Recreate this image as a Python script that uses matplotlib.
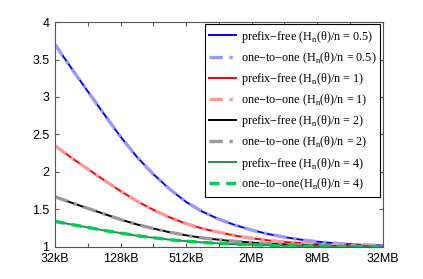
import matplotlib
matplotlib.use("Agg")
import matplotlib.pyplot as plt

# block size in kB (half-doubling steps from 32kB to 32MB)
size_kb = [32, 45.25, 64, 90.5, 128, 181, 256, 362, 512, 724, 1024,
           1448, 2048, 2896, 4096, 5793, 8192, 11585, 16384, 23170, 32768]

# ratio curves
r_05 = [3.70, 3.385, 3.075, 2.77, 2.47, 2.20, 1.97, 1.77, 1.60, 1.47, 1.37,
        1.29, 1.225, 1.172, 1.13, 1.097, 1.07, 1.05, 1.036, 1.026, 1.02]
r_1 = [2.35, 2.19, 2.04, 1.89, 1.745, 1.61, 1.495, 1.395, 1.31, 1.245, 1.195,
       1.15, 1.115, 1.088, 1.066, 1.05, 1.036, 1.026, 1.018, 1.013, 1.01]
r_2 = [1.67, 1.59, 1.515, 1.44, 1.365, 1.30, 1.245, 1.195, 1.155, 1.12, 1.095,
       1.075, 1.058, 1.044, 1.033, 1.025, 1.018, 1.013, 1.009, 1.006, 1.005]
r_4 = [1.34, 1.30, 1.26, 1.22, 1.185, 1.15, 1.122, 1.097, 1.077, 1.06, 1.047,
       1.037, 1.029, 1.022, 1.016, 1.012, 1.009, 1.007, 1.005, 1.003, 1.002]

xtick_kb = [32, 64, 128, 256, 512, 1024, 2048, 4096, 8192, 16384, 32768]
xtick_labels = ['32kB', '', '128kB', '', '512kB', '', '2MB', '', '8MB', '', '32MB']
yticks = [1, 1.5, 2, 2.5, 3, 3.5, 4]
ytick_labels = ['1', '1.5', '2', '2.5', '3', '3.5', '4']

def lab(kind, v):
    return kind + r' (H$_{\mathregular{n}}$(θ)/n = ' + v + ')'

fig = plt.figure(figsize=(4.23, 2.79), dpi=100)
ax = fig.add_axes([0.130, 0.115, 0.775, 0.806])

ax.plot(size_kb, r_05, color='#0000ff', lw=1.4, label=lab('prefix−free', '0.5'))
ax.plot(size_kb, r_05, color='#9999ff', lw=2.4, ls=(0, (4, 2, 1, 2)), label=lab('one−to−one', '0.5'))
ax.plot(size_kb, r_1, color='#ff0000', lw=1.4, label=lab('prefix−free', '1'))
ax.plot(size_kb, r_1, color='#ff9999', lw=2.4, ls=(0, (4, 2, 1, 2)), label=lab('one−to−one', '1'))
ax.plot(size_kb, r_2, color='#000000', lw=1.4, label=lab('prefix−free', '2'))
ax.plot(size_kb, r_2, color='#999999', lw=2.4, ls=(0, (4, 2, 1, 2)), label=lab('one−to−one', '2'))
ax.plot(size_kb, r_4, color='#2e8b57', lw=1.4, label=lab('prefix−free', '4'))
ax.plot(size_kb, r_4, color='#00cc55', lw=2.4, ls=(0, (3, 2)), label='one−to−one(H$_{\\mathregular{n}}$(θ)/n = 4)')

ax.set_xscale('log', base=2)
ax.set_xlim(32, 32768)
ax.set_ylim(1, 4)
ax.set_xticks(xtick_kb)
ax.set_xticklabels(xtick_labels)
ax.minorticks_off()
ax.set_yticks(yticks)
ax.set_yticklabels(ytick_labels)

for sp in ax.spines.values():
    sp.set_color('#555555')
ax.tick_params(direction='in', length=3, width=0.8, color='#555555',
               top=True, right=True, labelsize=9)
ax.tick_params(axis='x', pad=4.5)
ax.tick_params(axis='y', pad=4)
for t in ax.get_xticklabels() + ax.get_yticklabels():
    t.set_family('Liberation Sans')

leg = ax.legend(loc='upper right', prop={'family': 'Liberation Serif', 'size': 8.7},
                handlelength=2.2, handletextpad=0.4, labelspacing=0.45,
                borderpad=0.35, borderaxespad=0.2, fancybox=False, framealpha=1)
leg.get_frame().set_edgecolor('black')
leg.get_frame().set_linewidth(0.8)

plt.savefig('out.png', dpi=100)
